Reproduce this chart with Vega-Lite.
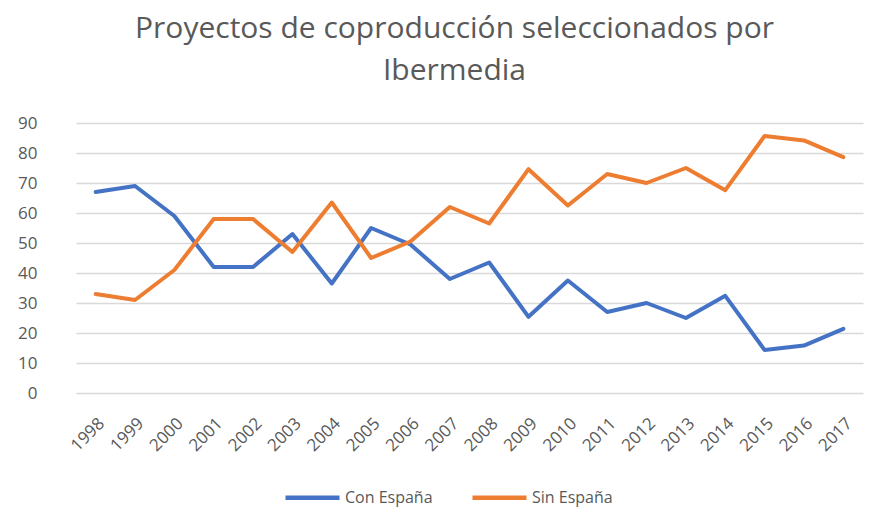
{
  "$schema": "https://vega.github.io/schema/vega-lite/v6.json",
  "width": 813,
  "height": 270,
  "autosize": "none",
  "padding": {"left": 57, "top": 123, "right": 0, "bottom": 116},
  "background": "white",
  "title": {
    "text": ["Proyectos de coproducción seleccionados por", "Ibermedia"],
    "font": "Open Sans",
    "fontSize": 30,
    "fontWeight": "normal",
    "color": "#595959",
    "anchor": "middle",
    "lineHeight": 42,
    "offset": 28,
    "dx": -9
  },
  "config": {
    "view": {"stroke": null},
    "axis": {"labelFont": "Open Sans", "labelColor": "#595959", "labelFontSize": 17},
    "legend": {"labelFont": "Open Sans", "labelColor": "#595959", "labelFontSize": 16}
  },
  "data": {
    "values": [
      {"year": "1998", "series": "Con España", "value": 67},
      {"year": "1999", "series": "Con España", "value": 69},
      {"year": "2000", "series": "Con España", "value": 59},
      {"year": "2001", "series": "Con España", "value": 42},
      {"year": "2002", "series": "Con España", "value": 42},
      {"year": "2003", "series": "Con España", "value": 53},
      {"year": "2004", "series": "Con España", "value": 36.5},
      {"year": "2005", "series": "Con España", "value": 55},
      {"year": "2006", "series": "Con España", "value": 49.5},
      {"year": "2007", "series": "Con España", "value": 38},
      {"year": "2008", "series": "Con España", "value": 43.5},
      {"year": "2009", "series": "Con España", "value": 25.4},
      {"year": "2010", "series": "Con España", "value": 37.5},
      {"year": "2011", "series": "Con España", "value": 27},
      {"year": "2012", "series": "Con España", "value": 30},
      {"year": "2013", "series": "Con España", "value": 25},
      {"year": "2014", "series": "Con España", "value": 32.4},
      {"year": "2015", "series": "Con España", "value": 14.3},
      {"year": "2016", "series": "Con España", "value": 15.8},
      {"year": "2017", "series": "Con España", "value": 21.4},
      {"year": "1998", "series": "Sin España", "value": 33},
      {"year": "1999", "series": "Sin España", "value": 31},
      {"year": "2000", "series": "Sin España", "value": 41},
      {"year": "2001", "series": "Sin España", "value": 58},
      {"year": "2002", "series": "Sin España", "value": 58},
      {"year": "2003", "series": "Sin España", "value": 47},
      {"year": "2004", "series": "Sin España", "value": 63.5},
      {"year": "2005", "series": "Sin España", "value": 45},
      {"year": "2006", "series": "Sin España", "value": 50.5},
      {"year": "2007", "series": "Sin España", "value": 62},
      {"year": "2008", "series": "Sin España", "value": 56.5},
      {"year": "2009", "series": "Sin España", "value": 74.6},
      {"year": "2010", "series": "Sin España", "value": 62.5},
      {"year": "2011", "series": "Sin España", "value": 73},
      {"year": "2012", "series": "Sin España", "value": 70},
      {"year": "2013", "series": "Sin España", "value": 75},
      {"year": "2014", "series": "Sin España", "value": 67.6},
      {"year": "2015", "series": "Sin España", "value": 85.7},
      {"year": "2016", "series": "Sin España", "value": 84.2},
      {"year": "2017", "series": "Sin España", "value": 78.6}
    ]
  },
  "mark": {"type": "line", "strokeWidth": 4, "strokeCap": "round", "strokeJoin": "round"},
  "encoding": {
    "x": {
      "field": "year",
      "type": "ordinal",
      "scale": {"type": "point", "range": [19, 806]},
      "axis": {
        "title": null,
        "labelAngle": -45,
        "domain": false,
        "ticks": false,
        "grid": false,
        "labelPadding": 22
      }
    },
    "y": {
      "field": "value",
      "type": "quantitative",
      "scale": {"domain": [0, 90], "nice": false, "zero": true},
      "axis": {
        "title": null,
        "values": [0, 10, 20, 30, 40, 50, 60, 70, 80, 90],
        "grid": true,
        "gridColor": "#D9D9D9",
        "gridWidth": 1.5,
        "domain": false,
        "ticks": false,
        "labelPadding": 20
      }
    },
    "color": {
      "field": "series",
      "type": "nominal",
      "scale": {"domain": ["Con España", "Sin España"], "range": ["#4472C4", "#ED7D31"]},
      "legend": {
        "title": null,
        "orient": "none",
        "legendX": 226,
        "legendY": 345,
        "direction": "horizontal",
        "symbolType": "stroke",
        "symbolSize": 2916,
        "symbolStrokeWidth": 4.5,
        "labelOffset": 3,
        "columnPadding": 30
      }
    }
  }
}
